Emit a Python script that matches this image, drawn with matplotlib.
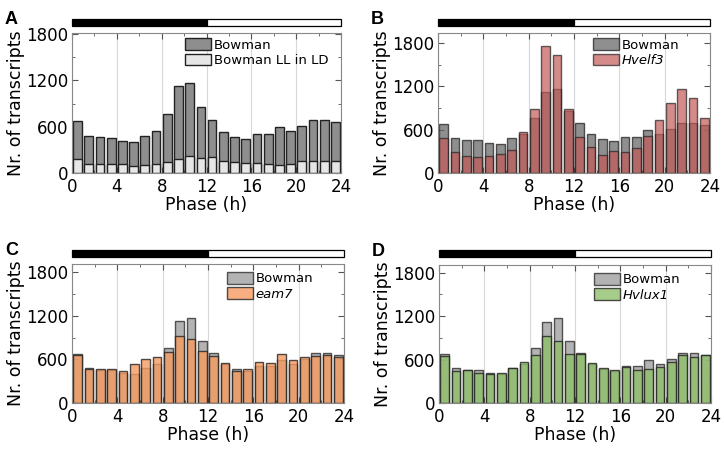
import matplotlib
matplotlib.use("Agg")
import matplotlib.pyplot as plt
from matplotlib.patches import Rectangle
import numpy as np

# ------------------------------------------------------------
phase = np.arange(24) + 0.5

bowman = [676, 482, 461, 452, 418, 405, 482, 543, 762, 1124, 1167, 861,
          693, 538, 469, 444, 504, 504, 590, 543, 611, 689, 693, 667]
bowman_ll = [177, 121, 121, 121, 116, 90, 108, 116, 138, 181, 220, 189,
             211, 155, 142, 133, 133, 116, 108, 116, 151, 151, 155, 155]
hvelf3 = [485, 291, 240, 226, 231, 258, 323, 568, 882, 1763, 1634, 886,
          498, 355, 249, 305, 295, 351, 517, 738, 969, 1163, 1034, 762]
eam7 = [655, 462, 471, 462, 443, 531, 600, 637, 702, 923, 877, 720,
        646, 549, 443, 475, 568, 554, 674, 595, 637, 651, 655, 628]
hvlux1 = [646, 448, 462, 415, 402, 411, 489, 563, 665, 923, 849, 674,
          683, 554, 489, 452, 494, 452, 471, 494, 572, 669, 632, 660]
# ------------------------------------------------------------

W, H = 724, 453
fig = plt.figure(figsize=(W / 100, H / 100), dpi=100)


def box(l, t, r, b):
    return [l / W, 1 - b / H, (r - l) / W, (b - t) / H]


def panel(rect, barrect, letter, ymax):
    ax = fig.add_axes(rect)
    ax.set_xlim(0, 24)
    ax.set_ylim(0, ymax)
    ax.set_xticks(range(0, 25, 4))
    ax.set_xticks(range(0, 25, 2), minor=True)
    ax.set_yticks([0, 600, 1200, 1800])
    ax.set_yticks(range(0, 1801, 300), minor=True)
    ax.tick_params(which="both", direction="in", top=True, right=True,
                   labelsize=12, color="#555555")
    ax.tick_params(axis="x", pad=3.5)
    ax.tick_params(axis="y", pad=2.5)
    ax.tick_params(which="major", length=4)
    ax.tick_params(which="minor", length=2)
    for s in ax.spines.values():
        s.set_color("#888888")
    ax.grid(axis="x", color="#d8d8d8", lw=0.8)
    ax.set_axisbelow(True)
    ax.set_xlabel("Phase (h)", fontsize=12.5, labelpad=0)
    ax.set_ylabel("Nr. of transcripts", fontsize=12.5, labelpad=1)

    # light/dark bar above
    bx = fig.add_axes(barrect)
    bx.set_xlim(0, 24)
    bx.set_ylim(0, 1)
    bx.add_patch(Rectangle((0, 0), 12, 1, facecolor="black", edgecolor="black",
                           lw=0.9, clip_on=False))
    bx.add_patch(Rectangle((12, 0), 12, 1, facecolor="white", edgecolor="black",
                           lw=0.9, clip_on=False))
    bx.axis("off")

    fig.text(rect[0] - 67 / W, rect[1] + rect[3] + 22 / H, letter,
             fontsize=13, fontweight="bold", family="Liberation Sans", va="top")
    return ax


axA = panel(box(72, 33, 341, 173), box(72, 19, 341, 26), "A", 1815)
axB = panel(box(438, 33, 710, 173), box(438, 19, 710, 26), "B", 1940)
axC = panel(box(72, 264, 344, 403), box(72, 250, 344, 257), "C", 1915)
axD = panel(box(439, 265, 711, 403), box(439, 250, 711, 257), "D", 1905)

ec = "#222222"
wd = 0.78

axA.bar(phase, bowman, width=wd, color="#8e8e8e", edgecolor=ec, lw=1.0, label="Bowman")
axA.bar(phase, bowman_ll, width=wd, color="#e6e6e6", edgecolor=ec, lw=1.0, label="Bowman LL in LD")

axB.bar(phase, bowman, width=wd, color="#6a6a6a", alpha=0.75, edgecolor=ec, lw=1.0, label="Bowman")
axB.bar(phase, hvelf3, width=wd, color="#c55a5a", alpha=0.7, edgecolor=ec, lw=1.0, label="Hvelf3")

axC.bar(phase, bowman, width=wd, color="#9a9a9a", alpha=0.75, edgecolor=ec, lw=1.0, label="Bowman")
axC.bar(phase, eam7, width=wd, color="#f59a60", alpha=0.8, edgecolor=ec, lw=1.0, label="eam7")

axD.bar(phase, bowman, width=wd, color="#9a9a9a", alpha=0.75, edgecolor=ec, lw=1.0, label="Bowman")
axD.bar(phase, hvlux1, width=wd, color="#8fc06a", alpha=0.8, edgecolor=ec, lw=1.0, label="Hvlux1")

for ax, anchor, ital in [(axA, (0.39, 1.02), False), (axB, (0.54, 1.02), True),
                         (axC, (0.54, 1.0), True), (axD, (0.54, 1.0), True)]:
    leg = ax.legend(loc="upper left", bbox_to_anchor=anchor, frameon=False,
                    fontsize=9.5, handlelength=2.0, handleheight=1.0,
                    handletextpad=0.2, labelspacing=0.15, borderaxespad=0.2)
    if ital:
        leg.get_texts()[1].set_style("italic")

fig.savefig("out.png", dpi=100)
